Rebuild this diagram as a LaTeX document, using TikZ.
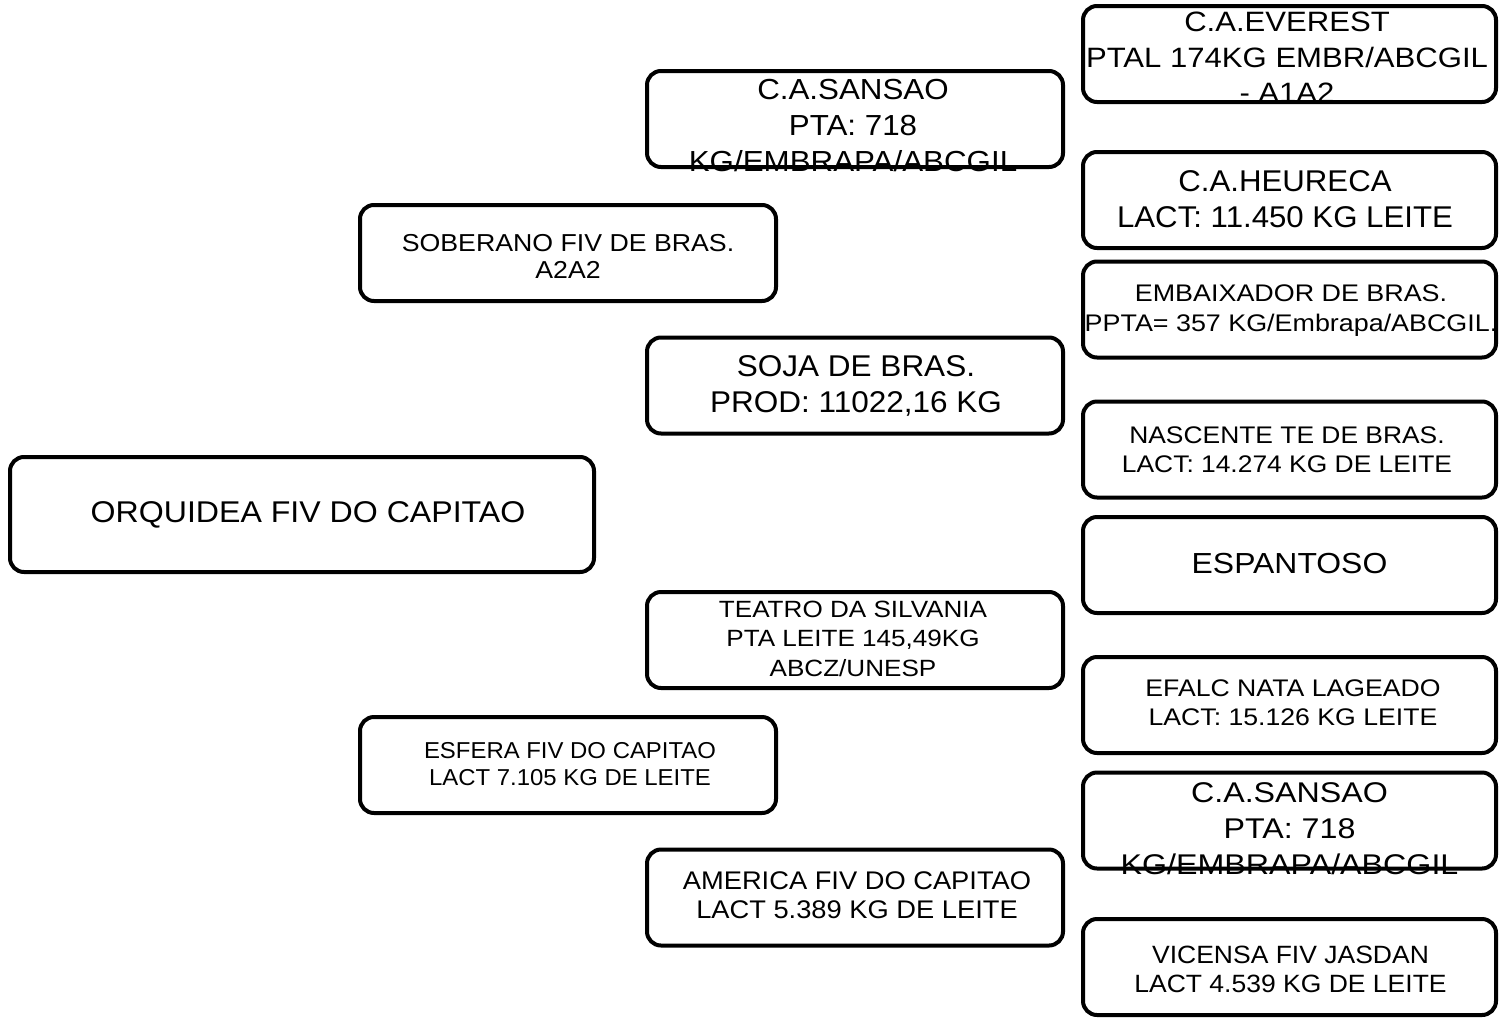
\documentclass[tikz,border=0pt]{standalone}
\usepackage{fontspec}
\setmainfont{Liberation Sans}
\begin{document}
\begin{tikzpicture}[x=1pt,y=-1pt,
  box/.style={draw=black,line width=4pt,rounded corners=14pt,fill=white,inner sep=0pt,outer sep=0pt},
  c4/.style={box,minimum width=413pt,minimum height=96pt},
  c3/.style={box,minimum width=416pt,minimum height=96pt},
  c2/.style={box,minimum width=416pt,minimum height=96pt},
  c1/.style={box,minimum width=584pt,minimum height=115pt},
  lbl/.style={align=center,inner sep=0pt,text=black},
  ft/.style n args={3}{font={\fontsize{#1}{#2}\selectfont\addfontfeature{FakeStretch=#3}}}]
\fill[white] (0,0) rectangle (1501,1020);
\useasboundingbox (0,0) rectangle (1501,1020);

% generation 1
\node[c1] (orq) at (302,514.5) {};
\node[lbl,ft={30}{36}{1.07}] (orqT) at (308,515) {ORQUIDEA FIV DO CAPITAO};

% generation 2
\node[c2] (sob) at (568,253) {};
\node[lbl,ft={24.5}{27}{1.09}] (sobT) at (568,256) {SOBERANO FIV DE BRAS.\\A2A2};
\node[c2] (esf) at (568,765) {};
\node[lbl,ft={23}{27}{1.04}] (esfT) at (570,764.5) {ESFERA FIV DO CAPITAO\\LACT 7.105 KG DE LEITE};

% generation 3
\node[c3] (san) at (855,119) {};
\node[lbl,ft={29}{36}{1.08}] (sanT) at (853,126) {C.A.SANSAO\\PTA: 718\\KG/EMBRAPA/ABCGIL};
\node[c3] (soj) at (855,385.5) {};
\node[lbl,ft={30}{36}{1.05}] (sojT) at (856,386) {SOJA DE BRAS.\\PROD: 11022,16 KG};
\node[c3] (tea) at (855,640) {};
\node[lbl,ft={23.5}{29.5}{1.11}] (teaT) at (853,638.5) {TEATRO DA SILVANIA\\PTA LEITE 145,49KG\\ABCZ/UNESP};
\node[c3] (ame) at (855,897.5) {};
\node[lbl,ft={25.5}{29}{1.07}] (ameT) at (857,895.5) {AMERICA FIV DO CAPITAO\\LACT 5.389 KG DE LEITE};

% generation 4
\node[c4] (eve) at (1289.5,54) {};
\node[lbl,ft={28}{35.5}{1.11}] (eveT) at (1287,57.5) {C.A.EVEREST\\PTAL 174KG EMBR/ABCGIL\\- A1A2};
\node[c4] (heu) at (1289.5,200) {};
\node[lbl,ft={30}{36}{1.04}] (heuT) at (1285,199) {C.A.HEURECA\\LACT: 11.450 KG LEITE};
\node[c4] (emb) at (1289.5,309.5) {};
\node[lbl,ft={24}{30}{1.12}] (embT) at (1291,310.5) {EMBAIXADOR DE BRAS.\\PPTA= 357 KG/Embrapa/ABCGIL.};
\node[c4] (nas) at (1289.5,449.5) {};
\node[lbl,ft={24}{29}{1.1}] (nasT) at (1287,449.5) {NASCENTE TE DE BRAS.\\LACT: 14.274 KG DE LEITE};
\node[c4] (esp) at (1289.5,565) {};
\node[lbl,ft={29}{35}{1.1}] (espT) at (1289.5,564) {ESPANTOSO};
\node[c4] (efa) at (1289.5,705) {};
\node[lbl,ft={24}{29}{1.11}] (efaT) at (1293,702.5) {EFALC NATA LAGEADO\\LACT: 15.126 KG LEITE};
\node[c4] (sa2) at (1289.5,820.5) {};
\node[lbl,ft={28.5}{36}{1.13}] (sa2T) at (1289.5,829) {C.A.SANSAO\\PTA: 718\\KG/EMBRAPA/ABCGIL};
\node[c4] (vic) at (1289.5,967) {};
\node[lbl,ft={25}{29}{1.06}] (vicT) at (1290.5,969.5) {VICENSA FIV JASDAN\\LACT 4.539 KG DE LEITE};
\end{tikzpicture}
\end{document}
